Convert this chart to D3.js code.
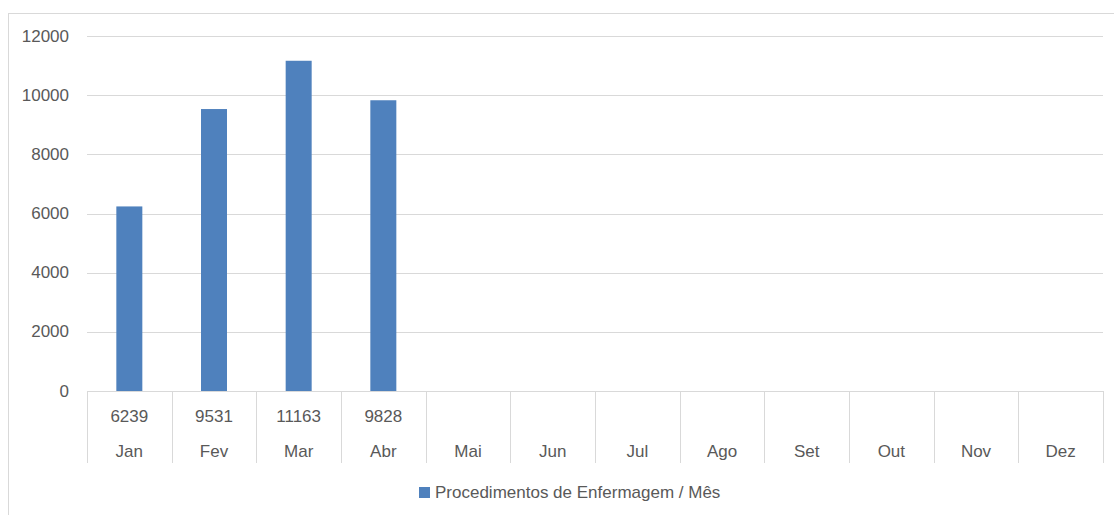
<html>
<head>
    <meta charset="utf-8">
    <title>Procedimentos de Enfermagem</title>
</head>
<style>
    body { margin: 0; background: #fff; }
    text { font-family: "Liberation Sans", "DejaVu Sans", sans-serif; fill: #595959; }
</style>
<body>
<svg width="1114" height="515"></svg>
<script src="https://d3js.org/d3.v7.min.js" charset="utf-8"></script>
<script>

    var meses = ['Jan', 'Fev', 'Mar', 'Abr', 'Mai', 'Jun', 'Jul', 'Ago', 'Set', 'Out', 'Nov', 'Dez'];
    var valores = [6239, 9531, 11163, 9828, null, null, null, null, null, null, null, null];
    var yTicks = [0, 2000, 4000, 6000, 8000, 10000, 12000];
    var serie = 'Procedimentos de Enfermagem / Mês';

    var svg = d3.select('svg');
    var fs = 17;

    // moldura do gráfico
    svg.append('rect')
        .attr('x', 8.5).attr('y', 13.5)
        .attr('width', 1120).attr('height', 520)
        .attr('fill', 'none').attr('stroke', '#d9d9d9');

    var x = d3.scaleBand().domain(meses).range([87, 1103]);
    var y = d3.scaleLinear().domain([0, 12000]).range([391, 36]);

    // grade
    svg.append('g').selectAll('line')
        .data(yTicks.filter(function (d) { return d > 0; }))
        .enter().append('line')
        .attr('x1', 87).attr('x2', 1103)
        .attr('y1', function (d) { return Math.round(y(d)) + 0.5; })
        .attr('y2', function (d) { return Math.round(y(d)) + 0.5; })
        .attr('stroke', '#d9d9d9').attr('stroke-width', 1);

    // eixo y
    svg.append('g').selectAll('text')
        .data(yTicks)
        .enter().append('text')
        .attr('x', 69)
        .attr('y', function (d) { return y(d); })
        .attr('text-anchor', 'end')
        .attr('dominant-baseline', 'central')
        .attr('font-size', fs)
        .text(function (d) { return d; });

    // barras
    var bw = 26;
    svg.append('g').selectAll('rect')
        .data(valores.map(function (v, i) { return {m: meses[i], v: v}; }).filter(function (d) { return d.v != null; }))
        .enter().append('rect')
        .attr('x', function (d) { return x(d.m) + x.bandwidth() / 2 - bw / 2; })
        .attr('y', function (d) { return y(d.v); })
        .attr('width', bw)
        .attr('height', function (d) { return y(0) - y(d.v); })
        .attr('fill', '#4f81bd');

    // tabela de dados
    var tabTop = 391, tabBot = 463;
    var tab = svg.append('g');
    tab.append('line')
        .attr('x1', 87).attr('x2', 1103)
        .attr('y1', tabTop + 0.5).attr('y2', tabTop + 0.5)
        .attr('stroke', '#d9d9d9');
    tab.selectAll('line.v')
        .data(meses.concat(['fim']))
        .enter().append('line')
        .attr('class', 'v')
        .attr('x1', function (d, i) { return Math.round(87 + i * x.bandwidth()) + 0.5; })
        .attr('x2', function (d, i) { return Math.round(87 + i * x.bandwidth()) + 0.5; })
        .attr('y1', tabTop).attr('y2', tabBot)
        .attr('stroke', '#d9d9d9');

    tab.selectAll('text.val')
        .data(valores.map(function (v, i) { return {m: meses[i], v: v}; }))
        .enter().append('text')
        .attr('x', function (d) { return x(d.m) + x.bandwidth() / 2; })
        .attr('y', 416)
        .attr('text-anchor', 'middle')
        .attr('dominant-baseline', 'central')
        .attr('font-size', fs)
        .text(function (d) { return d.v == null ? '' : d.v; });

    tab.selectAll('text.mes')
        .data(meses)
        .enter().append('text')
        .attr('x', function (d) { return x(d) + x.bandwidth() / 2; })
        .attr('y', 451)
        .attr('text-anchor', 'middle')
        .attr('dominant-baseline', 'central')
        .attr('font-size', fs)
        .text(function (d) { return d; });

    // legenda
    var leg = svg.append('g');
    leg.append('rect')
        .attr('x', 419).attr('y', 487)
        .attr('width', 11).attr('height', 11)
        .attr('fill', '#4f81bd');
    leg.append('text')
        .attr('x', 435).attr('y', 492)
        .attr('dominant-baseline', 'central')
        .attr('font-size', fs)
        .text(serie);

</script>
</body>
</html>
